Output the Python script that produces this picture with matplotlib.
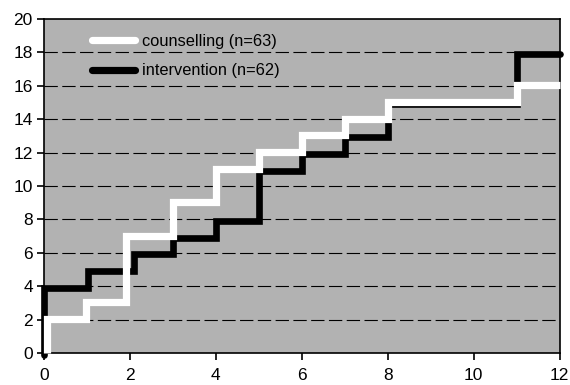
import matplotlib
matplotlib.use("Agg")
import matplotlib.pyplot as plt
from matplotlib.transforms import offset_copy

plt.rcParams['font.family'] = ['Liberation Sans', 'DejaVu Sans']

# cumulative counts
counsel_x = [0.08, 0.08, 0.97, 1.9, 3, 4, 5, 6, 7, 8, 11, 12]
counsel_y = [0, 2, 3, 7, 9, 11, 12, 13, 14, 15, 16, 16]
interv_x = [0, 0, 1.03, 2.1, 3, 4, 5, 6, 7, 8, 11, 12]
interv_y = [0, 4, 5, 6, 7, 8, 11, 12, 13, 15, 18, 18]

fig = plt.figure(figsize=(5.7, 3.85), dpi=100)
ax = fig.add_axes([0.077, 0.083, 0.905, 0.868])
ax.set_facecolor('#b2b2b2')

ax.set_xlim(0, 12)
ax.set_ylim(0, 20)
ax.set_xticks(range(0, 13, 2))
ax.set_yticks(range(0, 21, 2))

# dashed horizontal gridlines
for yv in range(2, 20, 2):
    ax.axhline(yv, color='black', lw=0.8, dashes=(12, 4), zorder=1)

tr_black = offset_copy(ax.transData, fig=fig, x=0, y=-1.5, units='dots')
tr_white = offset_copy(ax.transData, fig=fig, x=0, y=0.5, units='dots')

ax.plot(interv_x, interv_y, drawstyle='steps-post', color='black', lw=4.8,
        solid_capstyle='round', solid_joinstyle='miter', transform=tr_black,
        clip_on=False, zorder=3, label='intervention (n=62)')
ax.plot(counsel_x, counsel_y, drawstyle='steps-post', color='white', lw=5.2,
        solid_capstyle='butt', solid_joinstyle='miter', transform=tr_white,
        clip_on=False, zorder=4, label='counselling (n=63)')

h, l = ax.get_legend_handles_labels()
leg = ax.legend(h[::-1], l[::-1], loc='upper left', bbox_to_anchor=(0.065, 1.0),
                frameon=False, fontsize=11.8, handlelength=2.6, handletextpad=0.45,
                labelspacing=0.9, borderaxespad=0.5)
for line in leg.get_lines():
    line.set_linewidth(5.2)
    line.set_solid_capstyle('round')

for s in ax.spines.values():
    s.set_linewidth(1.2)
ax.tick_params(axis='both', direction='out', length=5, width=1.2,
               labelsize=12.5)
ax.tick_params(axis='x', pad=6)
ax.tick_params(axis='y', pad=3)

fig.savefig('out.png', dpi=100, facecolor='white')
